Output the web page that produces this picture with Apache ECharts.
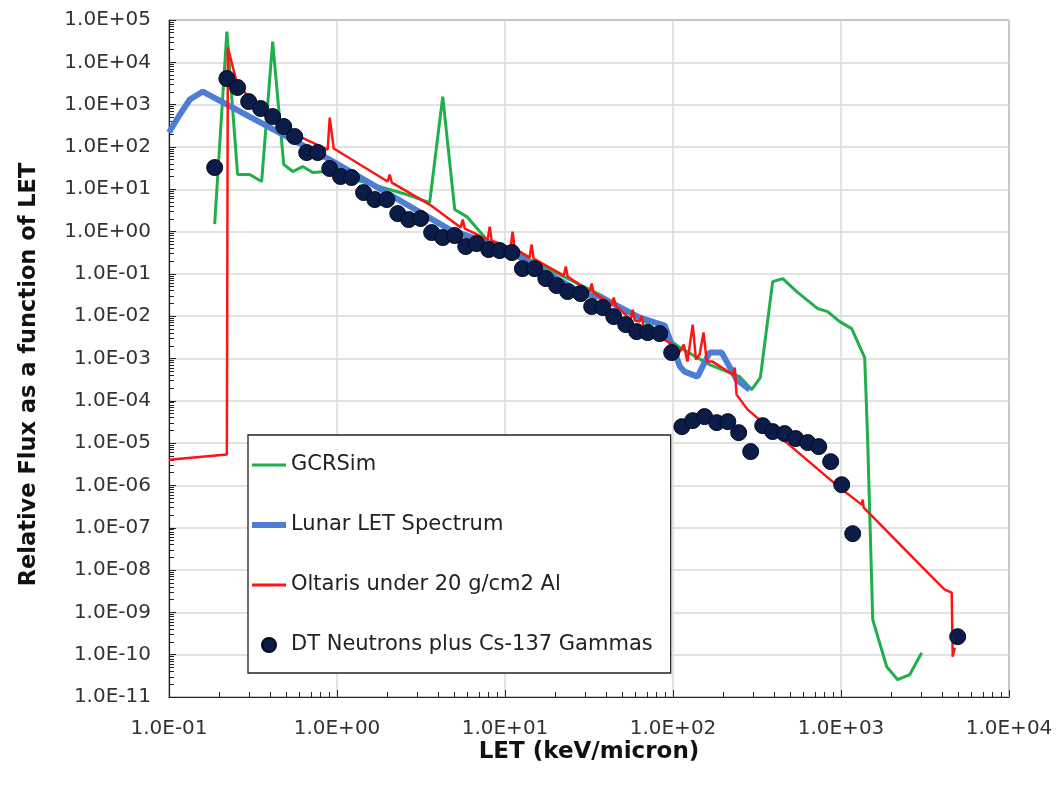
<!DOCTYPE html>
<html>
<head>
<meta charset="utf-8">
<script src="https://cdn.jsdelivr.net/npm/echarts@6/dist/echarts.min.js"></script>
<style>html,body{margin:0;padding:0;background:#fff}#c{width:1057px;height:789px}</style>
</head>
<body>
<div id="c"></div>
<script>
// ---- data (LET in keV/micron, relative flux) ----
const gcrsim = [[0.187,1.5],[0.221,53500],[0.256,22.3],[0.302,22.3],[0.356,15.2],[0.414,31000],[0.482,38.4],[0.545,26.2],[0.625,34.4],[0.717,24.8],[0.868,26.2],[2.60,7.49],[3.56,4.85],[4.26,1550],[5.02,3.31],[5.92,2.26],[7.78,0.647],[12.2,0.286],[21.2,0.0963],[36.6,0.0324],[63.4,0.00927],[110,0.00181],[165,0.000717],[249,0.000373],[294,0.000184],[331,0.000354],[392,0.0658],[450,0.0774],[545,0.0382],[727,0.0151],[833,0.0128],[982,0.00745],[1158,0.00509],[1384,0.00105],[1441,1.21e-5],[1545,6.72e-10],[1871,5.20e-11],[2175,2.56e-11],[2564,3.37e-11],[3022,1.11e-10]];
const lunar = [[0.1,219],[0.116,583],[0.133,1320],[0.159,2040],[0.905,50.4],[4.69,1.115],[10.2,0.375],[29.8,0.0324],[36.6,0.0291],[63.4,0.00927],[89.3,0.00600],[110,0.000643],[117,0.000490],[140,0.000373],[165,0.00138],[195,0.00138],[239,0.000317],[286,0.000184]];
const oltaris = [[0.1,4.07e-6],[0.221,5.35e-6],[0.224,22400],[0.253,3330],[0.324,1005],[0.397,444],[0.600,176],[0.880,86.8],[0.905,495],[0.956,91.7],[2.00,15.2],[2.06,22.3],[2.12,14.4],[3.56,4.35],[5.45,1.24],[5.60,1.92],[5.76,1.18],[7.89,0.647],[8.11,1.31],[8.33,0.613],[10.8,0.418],[11.1,1.0],[11.4,0.40],[14.0,0.243],[14.4,0.493],[14.8,0.23],[22.4,0.0912],[23.0,0.149],[23.6,0.087],[31.9,0.0382],[32.8,0.059],[33.7,0.036],[43.2,0.0188],[44.4,0.0275],[45.6,0.0178],[56.0,0.00831],[57.5,0.0143],[59.2,0.0079],[63.4,0.0075],[65.1,0.0103],[66.9,0.0054],[99.6,0.00213],[104,0.00146],[110,0.00146],[116,0.00213],[122,0.000845],[131,0.00633],[137,0.000942],[144,0.00124],[152,0.0041],[159,0.000845],[172,0.000845],[227,0.000416],[233,0.000609],[239,0.00014],[278,6.19e-5],[982,8.87e-7],[1328,3.52e-7],[1347,4.62e-7],[1365,2.99e-7],[3373,7.78e-9],[4143,3.44e-9],[4559,2.92e-9],[4623,8.97e-11],[4752,1.46e-10]];
const dtNeutrons = [[0.187,32.6],[0.221,4140],[0.256,2540],[0.298,1180],[0.351,809],[0.414,523],[0.482,304],[0.560,176],[0.660,73.7],[0.768,73.7],[0.905,30.9],[1.05,20.0],[1.22,18.9],[1.44,8.36],[1.68,5.71],[1.98,5.71],[2.30,2.66],[2.67,1.92],[3.15,2.03],[3.66,0.947],[4.26,0.721],[5.02,0.804],[5.84,0.442],[6.78,0.520],[8.00,0.375],[9.30,0.355],[11.0,0.319],[12.7,0.133],[15.0,0.133],[17.5,0.0774],[20.3,0.0529],[23.6,0.0382],[28.2,0.0342],[32.8,0.0169],[38.2,0.0160],[44.4,0.00978],[52.3,0.00633],[60.8,0.00432],[70.7,0.00410],[83.3,0.00388],[98.2,0.00138],[113,2.45e-5],[131,3.40e-5],[154,4.23e-5],[182,3.05e-5],[212,3.22e-5],[246,1.77e-5],[290,6.30e-6],[342,2.59e-5],[392,1.87e-5],[462,1.68e-5],[538,1.28e-5],[634,1.03e-5],[737,8.27e-6],[868,3.65e-6],[1010,1.04e-6],[1174,7.25e-8],[4950,2.66e-10]];
const seriesNames = ['GCRSim','Lunar LET Spectrum','Oltaris under 20 g/cm2 Al','DT Neutrons plus Cs-137 Gammas'];
const xRange = [0.1, 10000];
const yRange = [1e-11, 1e5];
const xTitle = 'LET (keV/micron)';
const yTitle = 'Relative Flux as a function of LET';

function minorTicks(lo, hi) {
  const out = [];
  for (let e = Math.round(Math.log10(lo)); e < Math.round(Math.log10(hi)); e++) {
    for (let m = 2; m <= 9; m++) out.push(m * Math.pow(10, e));
  }
  return out;
}
function sci(v) {
  const e = Math.round(Math.log10(v));
  return '1.0E' + (e < 0 ? '-' : '+') + String(Math.abs(e)).padStart(2, '0');
}
const labelStyle = {fontFamily: 'DejaVu Sans', fontSize: 20, color: '#333'};
const colors = {green: '#1fb04c', blue: '#4d7ed3', red: '#ff1414', navy: '#0b1c48'};
const chart = echarts.init(document.getElementById('c'));
chart.setOption({
  backgroundColor: '#fff',
  animation: false,
  grid: {left: 169, right: 48, top: 20, bottom: 92, show: true, borderColor: '#222', borderWidth: 1, containLabel: false},
  legend: {
    orient: 'vertical', left: 248, top: 435,
    data: [
      {name: seriesNames[0], icon: 'path://M0 0H34V3H0Z'},
      {name: seriesNames[1], icon: 'path://M0 0H34V6H0Z'},
      {name: seriesNames[2], icon: 'path://M0 0H34V3H0Z'},
      {name: seriesNames[3], icon: 'circle'}
    ],
    symbolKeepAspect: true,
    backgroundColor: '#fff', borderColor: '#222', borderWidth: 1.3,
    padding: [18, 18, 16, 4], itemGap: 36, itemWidth: 34, itemHeight: 14,
    textStyle: {fontFamily: 'DejaVu Sans', fontSize: 21, color: '#222', lineHeight: 24}
  },
  xAxis: [{
    type: 'log', logBase: 10, min: xRange[0], max: xRange[1], interval: 1,
    name: xTitle, nameLocation: 'middle', nameGap: 44, nameMoveOverlap: false,
    nameTextStyle: {fontFamily: 'DejaVu Sans', fontWeight: 'bold', fontSize: 23, color: '#111'},
    axisLine: {lineStyle: {color: '#222', width: 1.2}},
    axisTick: {inside: true, length: 7, lineStyle: {color: '#222'}},
    axisLabel: Object.assign({formatter: sci, margin: 22}, labelStyle),
    splitLine: {show: true, lineStyle: {color: '#d9d9d9', width: 1.5}}
  }, {
    type: 'log', logBase: 10, min: xRange[0], max: xRange[1], position: 'bottom',
    axisLine: {show: false}, axisLabel: {show: false}, splitLine: {show: false},
    axisTick: {show: true, inside: true, length: 5, customValues: minorTicks(xRange[0], xRange[1]), lineStyle: {color: '#222'}}
  }],
  yAxis: [{
    type: 'log', logBase: 10, min: yRange[0], max: yRange[1], interval: 1,
    name: yTitle, nameLocation: 'middle', nameGap: 128, nameRotate: 90, nameMoveOverlap: false,
    nameTextStyle: {fontFamily: 'DejaVu Sans', fontWeight: 'bold', fontSize: 22.5, color: '#111', padding: [0, 32, 0, 0]},
    axisLine: {lineStyle: {color: '#222', width: 1.2}},
    axisTick: {inside: true, length: 7, lineStyle: {color: '#222'}},
    axisLabel: Object.assign({formatter: sci, margin: 18}, labelStyle),
    splitLine: {show: true, lineStyle: {color: '#d9d9d9', width: 1.5}}
  }, {
    type: 'log', logBase: 10, min: yRange[0], max: yRange[1], position: 'left',
    axisLine: {show: false}, axisLabel: {show: false}, splitLine: {show: false},
    axisTick: {show: true, inside: true, length: 5, customValues: minorTicks(yRange[0], yRange[1]), lineStyle: {color: '#222'}}
  }],
  series: [
    {name: seriesNames[0], type: 'line', data: gcrsim, symbol: 'none', color: colors.green, lineStyle: {color: colors.green, width: 3}, z: 2},
    {name: seriesNames[1], type: 'line', data: lunar, symbol: 'none', color: colors.blue, lineStyle: {color: colors.blue, width: 6}, z: 3},
    {name: seriesNames[2], type: 'line', data: oltaris, symbol: 'none', color: colors.red, lineStyle: {color: colors.red, width: 2.5}, z: 4},
    {name: seriesNames[3], type: 'scatter', data: dtNeutrons, symbol: 'circle', symbolSize: 16, color: colors.navy, itemStyle: {color: colors.navy, opacity: 1, borderColor: '#030a20', borderWidth: 1}, z: 5}
  ]
});
</script>
</body>
</html>
